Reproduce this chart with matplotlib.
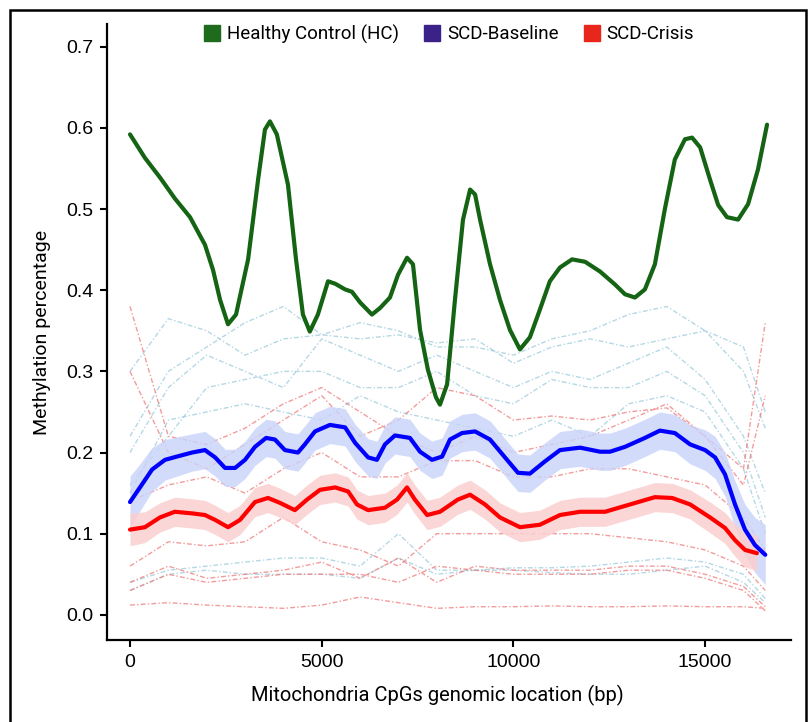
import matplotlib
matplotlib.use("Agg")
import matplotlib.pyplot as plt
from matplotlib.lines import Line2D
from matplotlib.patches import Rectangle
from matplotlib import font_manager as fm

# ---------------- data ----------------
green_x = [0, 390, 780, 1170, 1565, 1955, 2165, 2350, 2556, 2765, 3080, 3340, 3520, 3650, 3830, 4120, 4330,
           4510, 4690, 4900, 5165, 5350, 5610, 5790, 6000, 6310, 6520, 6780, 6990, 7225, 7380, 7565,
           7770, 7980, 8085, 8270, 8475, 8685, 8870, 9000, 9130, 9390, 9650, 9910, 10170, 10430, 10690,
           10950, 11215, 11530, 11870, 12260, 12650, 12910, 13170, 13430, 13690, 13950, 14210, 14475, 14660,
           14870, 15130, 15340, 15570, 15860, 16120, 16380, 16615]
green_y = [0.592, 0.563, 0.539, 0.513, 0.490, 0.456, 0.425, 0.388, 0.358, 0.370, 0.438, 0.536, 0.598, 0.608, 0.592, 0.530, 0.438,
           0.370, 0.349, 0.370, 0.411, 0.408, 0.401, 0.398, 0.385, 0.370, 0.378, 0.391, 0.419, 0.440, 0.432, 0.351,
           0.302, 0.268, 0.259, 0.284, 0.388, 0.487, 0.524, 0.518, 0.487, 0.432, 0.388, 0.351, 0.327, 0.342, 0.376,
           0.411, 0.428, 0.438, 0.435, 0.423, 0.407, 0.395, 0.391, 0.401, 0.432, 0.500, 0.561, 0.586, 0.588,
           0.576, 0.536, 0.505, 0.490, 0.487, 0.506, 0.549, 0.604]

blue_x = [0, 260, 575, 913, 1300, 1620, 1955, 2220, 2480, 2740, 3000, 3260, 3550, 3780, 4040,
          4380, 4560, 4825, 5215, 5610, 5870, 6210, 6440, 6650, 6910, 7300, 7565, 7875, 8140, 8345,
          8660, 9000, 9390, 9780, 10120, 10430, 10820, 11215, 11740, 12260, 12520, 12910, 13430, 13820, 14210,
          14610, 15000, 15260, 15520, 15780, 16040, 16300, 16569]
blue_y = [0.139, 0.157, 0.179, 0.191, 0.196, 0.200, 0.203, 0.194, 0.181, 0.181, 0.191, 0.207, 0.218, 0.216, 0.203,
          0.200, 0.210, 0.226, 0.234, 0.231, 0.212, 0.194, 0.191, 0.210, 0.221, 0.218, 0.201, 0.191, 0.195, 0.216,
          0.224, 0.226, 0.216, 0.194, 0.175, 0.174, 0.189, 0.203, 0.206, 0.201, 0.201, 0.207, 0.218, 0.227, 0.224,
          0.210, 0.203, 0.194, 0.173, 0.136, 0.105, 0.086, 0.074]
blue_ci = [0.032, 0.029, 0.027, 0.025, 0.024, 0.023, 0.023, 0.023, 0.023, 0.023, 0.023, 0.023, 0.023, 0.023, 0.023,
           0.023, 0.023, 0.023, 0.023, 0.023, 0.023, 0.023, 0.023, 0.023, 0.023, 0.023, 0.023, 0.023, 0.023, 0.023,
           0.023, 0.023, 0.023, 0.023, 0.023, 0.023, 0.023, 0.023, 0.023, 0.023, 0.023, 0.023, 0.023, 0.023, 0.023,
           0.024, 0.025, 0.026, 0.027, 0.029, 0.031, 0.034, 0.037]

red_x = [0, 390, 780, 1170, 1620, 1955, 2220, 2556, 2870, 3260, 3600, 3910, 4300, 4617, 4955,
         5350, 5690, 5920, 6210, 6650, 6965, 7225, 7430, 7750, 8085, 8550, 8870, 9260, 9650, 10170,
         10690, 11215, 11740, 12390, 13040, 13690, 14140, 14610, 15130, 15520, 15780, 16040, 16350]
red_y = [0.105, 0.108, 0.120, 0.127, 0.125, 0.123, 0.117, 0.108, 0.117, 0.139, 0.144, 0.138, 0.129, 0.142, 0.154,
         0.157, 0.152, 0.136, 0.129, 0.132, 0.142, 0.157, 0.142, 0.123, 0.127, 0.142, 0.148, 0.136, 0.120, 0.108,
         0.111, 0.123, 0.127, 0.127, 0.136, 0.145, 0.144, 0.136, 0.120, 0.107, 0.092, 0.080, 0.076]
red_ci = [0.020, 0.019, 0.018, 0.018, 0.018, 0.018, 0.018, 0.018, 0.018, 0.018, 0.018, 0.018, 0.018, 0.018, 0.018,
          0.018, 0.018, 0.018, 0.018, 0.018, 0.018, 0.018, 0.018, 0.018, 0.018, 0.018, 0.018, 0.018, 0.018, 0.018,
          0.018, 0.018, 0.018, 0.018, 0.018, 0.018, 0.018, 0.018, 0.019, 0.019, 0.020, 0.021, 0.022]

# individual sample traces
ind_x = [0, 1000, 2000, 3000, 4000, 5000, 6000, 7000, 8000, 9000, 10000, 11000, 12000, 13000, 14000, 15000, 16000, 16569]
baseline_samples = [
    [0.30, 0.365, 0.35, 0.32, 0.34, 0.345, 0.36, 0.35, 0.33, 0.33, 0.32, 0.34, 0.35, 0.37, 0.38, 0.35, 0.30, 0.23],
    [0.22, 0.30, 0.33, 0.36, 0.38, 0.345, 0.34, 0.345, 0.335, 0.34, 0.31, 0.33, 0.34, 0.33, 0.34, 0.35, 0.33, 0.25],
    [0.20, 0.28, 0.32, 0.30, 0.28, 0.34, 0.32, 0.30, 0.32, 0.30, 0.28, 0.30, 0.29, 0.31, 0.33, 0.29, 0.22, 0.15],
    [0.16, 0.22, 0.28, 0.29, 0.30, 0.30, 0.28, 0.28, 0.30, 0.27, 0.26, 0.29, 0.28, 0.28, 0.30, 0.27, 0.20, 0.12],
    [0.15, 0.24, 0.25, 0.26, 0.25, 0.24, 0.27, 0.25, 0.24, 0.23, 0.22, 0.24, 0.22, 0.26, 0.27, 0.25, 0.18, 0.10],
    [0.04, 0.055, 0.06, 0.065, 0.07, 0.07, 0.06, 0.10, 0.055, 0.055, 0.058, 0.058, 0.06, 0.065, 0.07, 0.065, 0.05, 0.02],
    [0.03, 0.05, 0.055, 0.05, 0.05, 0.05, 0.045, 0.07, 0.05, 0.055, 0.055, 0.052, 0.05, 0.05, 0.055, 0.06, 0.04, 0.015],
]
crisis_samples = [
    [0.38, 0.22, 0.21, 0.23, 0.26, 0.28, 0.25, 0.22, 0.20, 0.22, 0.20, 0.21, 0.22, 0.24, 0.26, 0.22, 0.18, 0.36],
    [0.30, 0.20, 0.18, 0.21, 0.24, 0.27, 0.22, 0.24, 0.28, 0.27, 0.24, 0.245, 0.24, 0.25, 0.255, 0.22, 0.16, 0.27],
    [0.14, 0.16, 0.17, 0.15, 0.18, 0.20, 0.17, 0.17, 0.19, 0.19, 0.17, 0.17, 0.18, 0.18, 0.17, 0.16, 0.12, 0.08],
    [0.06, 0.09, 0.085, 0.09, 0.12, 0.09, 0.08, 0.06, 0.10, 0.10, 0.10, 0.10, 0.10, 0.095, 0.09, 0.08, 0.06, 0.03],
    [0.04, 0.06, 0.045, 0.05, 0.055, 0.065, 0.045, 0.07, 0.04, 0.06, 0.055, 0.055, 0.055, 0.06, 0.06, 0.05, 0.035, 0.01],
    [0.03, 0.05, 0.04, 0.045, 0.05, 0.05, 0.05, 0.04, 0.06, 0.055, 0.05, 0.05, 0.05, 0.055, 0.055, 0.045, 0.03, 0.005],
    [0.012, 0.015, 0.012, 0.01, 0.008, 0.012, 0.022, 0.015, 0.008, 0.01, 0.01, 0.011, 0.01, 0.01, 0.011, 0.01, 0.01, 0.008],
]

legend_labels = ["Healthy Control (HC)", "SCD-Baseline", "SCD-Crisis"]
legend_colors = ["#1e6b1e", "#3a2288", "#e8261b"]
x_ticks = [0, 5000, 10000, 15000]
y_ticks = [0.0, 0.1, 0.2, 0.3, 0.4, 0.5, 0.6, 0.7]

# ---------------- fonts ----------------
avail = {f.name for f in fm.fontManager.ttflist}
label_font = "Roboto" if "Roboto" in avail else "DejaVu Sans"
regular = "Liberation Sans"
plt.rcParams["font.family"] = [regular, "DejaVu Sans"]

# ---------------- figure ----------------
W, H = 809, 722
fig = plt.figure(figsize=(W / 100, H / 100), dpi=100)
ax = fig.add_axes([107 / W, 1 - 640 / H, (791 - 107) / W, (640 - 24) / H])

dash = (0, (3.5, 1.6, 1.0, 1.6))
for s in baseline_samples:
    ax.plot(ind_x, s, color="#9ccbdc", lw=1.0, ls=dash, alpha=0.75, zorder=1)
for s in crisis_samples:
    ax.plot(ind_x, s, color="#f07a7a", lw=1.0, ls=dash, alpha=0.75, zorder=1)

blo = [v - c for v, c in zip(blue_y, blue_ci)]
bhi = [v + c for v, c in zip(blue_y, blue_ci)]
rlo = [v - c for v, c in zip(red_y, red_ci)]
rhi = [v + c for v, c in zip(red_y, red_ci)]
ax.fill_between(blue_x, blo, bhi, color="#c9d3fa", alpha=0.8, lw=0, zorder=2)
ax.fill_between(red_x, rlo, rhi, color="#fbcfcf", alpha=0.85, lw=0, zorder=2)

ax.plot(green_x, green_y, color="#146414", lw=3.0, zorder=4, solid_joinstyle="round", solid_capstyle="round")
ax.plot(blue_x, blue_y, color="#0000ff", lw=3.0, zorder=4, solid_joinstyle="round", solid_capstyle="round")
ax.plot(red_x, red_y, color="#ff0000", lw=3.0, zorder=4, solid_joinstyle="round", solid_capstyle="round")

ax.set_xlim(-600, 17240)
ax.set_ylim(-0.031, 0.728)
ax.set_xticks(x_ticks)
ax.set_xticklabels([str(t) for t in x_ticks])
ax.set_yticks(y_ticks)
ax.set_yticklabels([f"{t:.1f}" for t in y_ticks])
for sp in ["top", "right"]:
    ax.spines[sp].set_visible(False)
for sp in ["left", "bottom"]:
    ax.spines[sp].set_linewidth(1.6)
ax.tick_params(direction="out", length=5, width=1.5, labelsize=14, pad=5, colors="black")

ax.set_xlabel("Mitochondria CpGs genomic location (bp)", fontsize=14.5, family=[label_font, "DejaVu Sans"])
ax.set_ylabel("Methylation percentage", fontsize=14, family=[label_font, "DejaVu Sans"])
ax.xaxis.set_label_coords((437 - 107) / 684, -(695 - 640) / 616, transform=ax.transAxes)
ax.yaxis.set_label_coords(-(107 - 42) / 684, 0.5, transform=ax.transAxes)
ax.xaxis.label.set_va("center")
ax.yaxis.label.set_va("center")

handles = [Line2D([], [], marker="s", ls="", markersize=11, color=c) for c in legend_colors]
ax.legend(handles, legend_labels, loc="center", bbox_to_anchor=(0.5, 1 - 10 / 616), ncol=3, frameon=False,
          prop={"family": [label_font, "DejaVu Sans"], "size": 13.5}, handlelength=0.9, handletextpad=0.35,
          columnspacing=1.3, borderaxespad=0)

fig.patches.append(Rectangle((10 / W, -0.02), (806 - 10) / W, 1.02 - 10 / H, transform=fig.transFigure,
                             fill=False, edgecolor="black", lw=1.8))

fig.savefig("out.png", dpi=100)
